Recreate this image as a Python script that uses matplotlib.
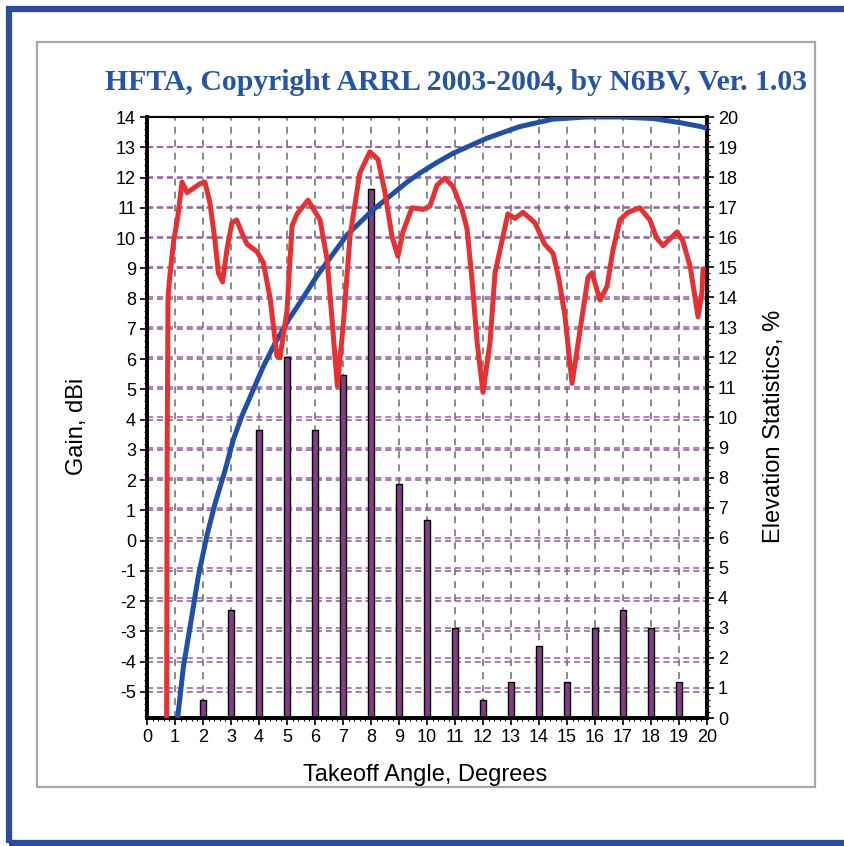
import matplotlib
matplotlib.use('Agg')
import matplotlib.pyplot as plt
from matplotlib.patches import Rectangle
from matplotlib.ticker import MultipleLocator

plt.rcParams['font.family'] = ['Liberation Sans', 'DejaVu Sans']
plt.rcParams['axes.unicode_minus'] = False

# Gain curve (red), dBi vs takeoff angle
gain_deg = [0.70, 0.72, 0.75, 0.80, 0.95, 1.10, 1.25, 1.43, 1.90, 2.07, 2.25, 2.43, 2.55, 2.70,
            2.85, 3.03, 3.20, 3.40, 3.57, 3.93, 4.15, 4.40, 4.64, 4.75, 5.00, 5.18, 5.36, 5.75,
            6.18, 6.43, 6.60, 6.80, 7.00, 7.25, 7.60, 7.96, 8.25, 8.50, 8.75, 8.96, 9.14, 9.46,
            9.86, 10.10, 10.36, 10.64, 10.93, 11.25, 11.43, 11.60, 11.79, 12.00, 12.25, 12.43,
            12.71, 12.89, 13.14, 13.43, 13.86, 14.20, 14.50, 14.70, 14.93, 15.18, 15.40, 15.57,
            15.75, 15.89, 16.18, 16.43, 16.64, 16.89, 17.18, 17.60, 17.96, 18.20, 18.43, 18.93,
            19.14, 19.40, 19.57, 19.68, 19.82, 19.86]
gain_dbi = [-6.5, 3.0, 8.0, 8.6, 9.9, 10.7, 11.85, 11.5, 11.8, 11.85, 11.15, 9.9, 8.85, 8.55,
            9.6, 10.5, 10.6, 10.15, 9.8, 9.55, 9.2, 8.0, 6.1, 6.05, 7.6, 10.4, 10.8, 11.25,
            10.6, 9.3, 7.4, 5.1, 7.05, 10.05, 12.15, 12.85, 12.6, 11.5, 10.05, 9.4, 10.2, 11.0,
            10.95, 11.05, 11.75, 11.98, 11.7, 10.95, 10.3, 8.7, 6.55, 4.9, 6.55, 8.85,
            10.05, 10.8, 10.65, 10.85, 10.5, 9.8, 9.5, 8.7, 7.4, 5.2, 6.55, 7.6,
            8.7, 8.85, 7.95, 8.4, 9.6, 10.6, 10.85, 11.0, 10.6, 10.0, 9.75, 10.2,
            9.9, 9.05, 8.05, 7.4, 8.2, 9.05]

# Reference curve (blue), dBi
ref_deg = [1.09, 1.30, 1.54, 1.83, 2.13, 2.43, 2.79, 3.08, 3.38, 3.74, 4.15, 4.57, 5.05, 5.52,
           6.07, 7.14, 8.07, 9.29, 9.75, 10.36, 10.93, 12.14, 13.30, 14.50, 15.70, 16.90,
           18.07, 19.00, 19.80, 20.00]
ref_dbi = [-5.9, -4.17, -2.84, -1.19, 0.13, 1.23, 2.33, 3.33, 4.1, 4.87, 5.75, 6.52, 7.29, 7.95,
           8.75, 10.1, 10.93, 11.85, 12.15, 12.5, 12.8, 13.3, 13.68, 13.93, 14.0, 14.0,
           13.95, 13.82, 13.68, 13.62]

# Elevation statistics bars, %
stat_deg = [2, 3, 4, 5, 6, 7, 8, 9, 10, 11, 12, 13, 14, 15, 16, 17, 18, 19]
stat_pct = [0.6, 3.6, 9.6, 12.0, 9.6, 11.4, 17.6, 7.8, 6.6, 3.0, 0.6, 1.2, 2.4, 1.2, 3.0, 3.6, 3.0, 1.2]

gain_ticks = list(range(-5, 15))
pct_ticks = list(range(0, 21))
x_ticks = list(range(0, 21))

fig = plt.figure(figsize=(8.44, 8.46), dpi=100)

# blue outer frame and grey inner panel (kept behind the axes)
fig.patches.append(Rectangle((9 / 844, 3 / 846), 1.2, 834 / 846, transform=fig.transFigure,
                             fill=False, edgecolor='#2a4c9c', linewidth=4.5, zorder=-2))
fig.patches.append(Rectangle((37 / 844, 1 - 787 / 846), 778 / 844, 745 / 846,
                             transform=fig.transFigure, facecolor='white',
                             edgecolor='#a8a8a8', linewidth=1.6, zorder=-1))

fig.text(456 / 844, 1 - 82 / 846, 'HFTA, Copyright ARRL 2003-2004, by N6BV, Ver. 1.03',
         ha='center', va='center', color='#2456a8', fontsize=21.4, fontweight='bold',
         family=['Liberation Serif', 'DejaVu Serif'])

ax_pct = fig.add_axes([147 / 844, 1 - 718 / 846, 560 / 844, 601 / 846])
ax_gain = ax_pct.twinx()

ax_pct.yaxis.tick_right()
ax_pct.yaxis.set_label_position('right')
ax_gain.yaxis.tick_left()
ax_gain.yaxis.set_label_position('left')

ax_pct.set_xlim(0, 20)
ax_pct.set_ylim(0, 20)
ax_gain.set_ylim(-5.86, 14)

# grids (all kept under the bars)
ax_pct.set_axisbelow(True)
ax_pct.vlines(x_ticks[1:-1], 0, 1, transform=ax_pct.get_xaxis_transform(),
              colors='#6a6a6a', linestyles=(0, (4.5, 4)), linewidth=1.1, zorder=0)
ax_pct.hlines(gain_ticks, 0, 1, transform=ax_gain.get_yaxis_transform(),
              colors='#707070', linestyles=(0, (4, 2.5)), linewidth=1.1, zorder=0)
ax_pct.hlines(pct_ticks[1:-1], 0, 1, transform=ax_pct.get_yaxis_transform(),
              colors='#b050c0', linestyles=(0, (4, 2.5)), linewidth=1.1, zorder=0)

ax_pct.bar(stat_deg, stat_pct, width=0.18, color='#8b3a8b', edgecolor='black',
           linewidth=1.0, zorder=2)

ax_gain.plot(ref_deg, ref_dbi, color='#1f4fa8', linewidth=3.6, solid_joinstyle='round',
             solid_capstyle='butt', zorder=3)
ax_gain.plot(gain_deg, gain_dbi, color='#e83030', linewidth=3.6, solid_joinstyle='round',
             solid_capstyle='butt', zorder=4)

ax_pct.set_xticks(x_ticks)
ax_pct.xaxis.set_minor_locator(MultipleLocator(0.2))
ax_pct.set_yticks(pct_ticks)
ax_pct.yaxis.set_minor_locator(MultipleLocator(0.2))
ax_gain.set_yticks(gain_ticks)
ax_gain.yaxis.set_minor_locator(MultipleLocator(0.2))

for a in (ax_pct, ax_gain):
    a.tick_params(which='major', direction='out', length=5, width=1.2, labelsize=13, pad=3)
    a.tick_params(which='minor', direction='out', length=2.5, width=0.8)
    for side in ('left', 'right', 'bottom'):
        a.spines[side].set_linewidth(2.6)
    a.spines['top'].set_linewidth(1.5)

ax_gain.set_ylabel('Gain, dBi', fontsize=17)
ax_gain.yaxis.set_label_coords(-0.105, 0.485)
ax_pct.set_ylabel('Elevation Statistics, %', fontsize=17)
ax_pct.yaxis.set_label_coords(1.10, 0.485)
ax_pct.set_xlabel('Takeoff Angle, Degrees', fontsize=17)
ax_pct.xaxis.set_label_coords(0.496, -0.095)
ax_pct.xaxis.label.set_va('center')

fig.savefig('out.png', dpi=100)
